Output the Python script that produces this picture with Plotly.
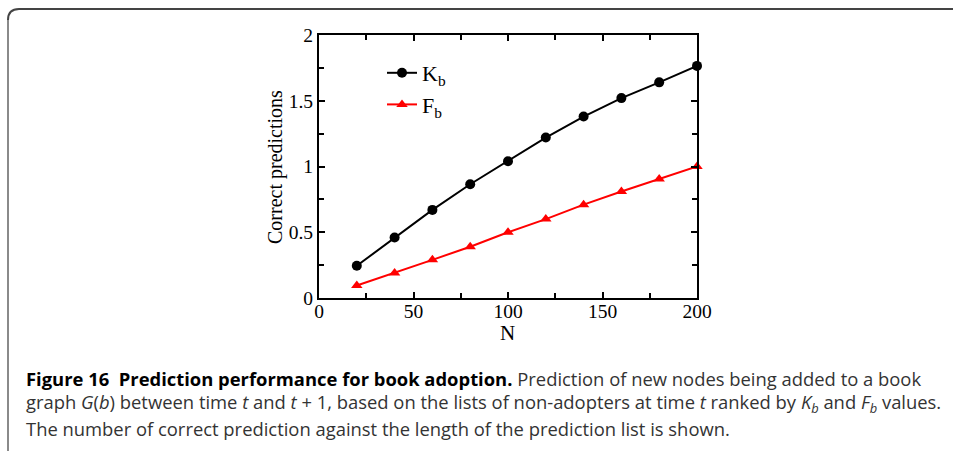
import plotly.graph_objects as go

# ---- data ----
N = [20, 40, 60, 80, 100, 120, 140, 160, 180, 200]
K_b = [0.245, 0.46, 0.67, 0.865, 1.04, 1.22, 1.38, 1.52, 1.64, 1.765]
F_b = [0.095, 0.19, 0.29, 0.39, 0.50, 0.60, 0.71, 0.81, 0.905, 1.0]
x_ticks = [0, 50, 100, 150, 200]
y_ticks = [0, 0.5, 1, 1.5, 2]
y_ticklabels = ["0", "0.5", "1", "1.5", "2"]

W, H = 953, 451
L, R, T, B = 319, 697, 35, 298  # plot area pixel bounds


def px(x):
    return (x - L) / (R - L)


def py(y):
    return (B - y) / (B - T)


serif = "Liberation Serif, Times New Roman, serif"

fig = go.Figure()
fig.add_trace(go.Scatter(
    x=N, y=K_b, mode="lines+markers", name="K<sub>b</sub>",
    line=dict(color="black", width=2),
    marker=dict(symbol="circle", size=10, color="black"),
    cliponaxis=False,
))
fig.add_trace(go.Scatter(
    x=N, y=F_b, mode="lines+markers", name="F<sub>b</sub>",
    line=dict(color="#ff0000", width=2),
    marker=dict(symbol="triangle-up", size=10, color="#ff0000"),
    cliponaxis=False,
))

axis_common = dict(
    showgrid=False, zeroline=False, showline=True, linecolor="black", linewidth=2,
    mirror="allticks", ticks="inside", ticklen=6, tickwidth=1.5, tickcolor="black",
    tickfont=dict(family=serif, size=19.5, color="black"),
)

fig.update_xaxes(
    range=[0, 200], tickvals=x_ticks, ticktext=[str(v) for v in x_ticks],
    minor=dict(dtick=25, ticks="inside", ticklen=5, tickwidth=1.5, tickcolor="black"),
    ticklabelstandoff=-5,
    **axis_common,
)
fig.update_yaxes(
    range=[0, 2], tickvals=y_ticks, ticktext=y_ticklabels,
    minor=dict(dtick=0.25, ticks="inside", ticklen=5, tickwidth=1.5, tickcolor="black"),
    ticklabelstandoff=0,
    **axis_common,
)

# outer rounded frame (pixel coordinates converted to paper)
r = 11
frame_top = (f"M {px(8)},{py(9 + r)} Q {px(8)},{py(9)} {px(8 + r)},{py(9)} "
             f"L {px(W + 5)},{py(9)}")
frame_left = f"M {px(8)},{py(9 + r)} L {px(8)},{py(H + 5)}"
shapes = [
    dict(type="path", xref="paper", yref="paper", path=frame_left,
         line=dict(color="#8a8a8a", width=2)),
    dict(type="path", xref="paper", yref="paper", path=frame_top,
         line=dict(color="#444444", width=2)),
]

annotations = [
    dict(text="N", xref="paper", yref="paper", x=px(507), y=py(333),
         xanchor="center", yanchor="middle", showarrow=False,
         font=dict(family=serif, size=21, color="black")),
    dict(text="Correct predictions", xref="paper", yref="paper", x=px(275), y=py(167),
         xanchor="center", yanchor="middle", showarrow=False, textangle=-90,
         font=dict(family=serif, size=20, color="black")),
]

sans = "Open Sans, Noto Sans, sans-serif"
cap_color = "#333333"
caption_lines = [
    "<b><span style='color:black'>Figure 16  Prediction performance for book adoption.</span></b> "
    "Prediction of new nodes being added to a book",
    "graph <i>G</i>(<i>b</i>) between time <i>t</i> and <i>t</i> + 1, based on the lists of "
    "non-adopters at time <i>t</i> ranked by <i>K<sub>b</sub></i> and <i>F<sub>b</sub></i> values.",
    "The number of correct prediction against the length of the prediction list is shown.",
]
caption_y = [378, 403, 428]
for txt, yy in zip(caption_lines, caption_y):
    annotations.append(dict(
        text=txt, xref="paper", yref="paper", x=px(24), y=py(yy),
        xanchor="left", yanchor="middle", showarrow=False, align="left",
        font=dict(family=sans, size=18.4, color=cap_color),
    ))

fig.update_layout(
    width=W, height=H,
    margin=dict(l=L, r=W - R, t=T, b=H - B, pad=0),
    paper_bgcolor="white", plot_bgcolor="white",
    showlegend=True,
    legend=dict(
        x=px(382), y=py(52), xanchor="left", yanchor="top",
        bgcolor="rgba(0,0,0,0)", borderwidth=0,
        font=dict(family=serif, size=22, color="black"),
        itemwidth=30, tracegroupgap=0,
    ),
    shapes=shapes,
    annotations=annotations,
)

fig.write_html("out.html")
